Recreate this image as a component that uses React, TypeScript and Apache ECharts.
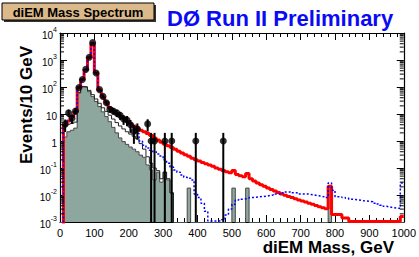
import React, { useEffect, useRef } from 'react';
import * as echarts from 'echarts';

const FONT = '"Liberation Sans", Arial, Helvetica, sans-serif';
const BIN_WIDTH = 10; // GeV
const X_MIN = 0;
const X_MAX = 1000;
const X_TICK = 100;
const Y_MIN = 1e-3;
const Y_MAX = 1e4;
const Y_MINOR_MULT = [2, 3, 4, 5, 6, 7, 8, 9];
const Y_DECADES = [-3, -2, -1, 0, 1, 2, 3];

// total expected background (red), events per 10 GeV bin from 0 GeV
const RED = [
  0, 3.8, 5.5, 8, 12, 95, 190, 430, 1250, 4200,
  330, 75, 42, 27, 17, 13, 10.5, 8.5, 6.8, 5.5,
  4.4, 3.6, 3.0, 2.5, 2.2, 1.9, 1.6, 1.3, 1.1, 0.9,
  0.75, 0.66, 0.57, 0.49, 0.42, 0.36, 0.31, 0.27, 0.23, 0.2,
  0.18, 0.16, 0.145, 0.13, 0.115, 0.1, 0.09, 0.08, 0.072, 0.066,
  0.08, 0.058, 0.052, 0.047, 0.062, 0.04, 0.033, 0.028, 0.024, 0.021,
  0.018, 0.016, 0.014, 0.0125, 0.011, 0.0098, 0.0088, 0.008, 0.0072, 0.0065,
  0.006, 0.0055, 0.005, 0.0045, 0.0041, 0.0037, 0.0034, 0.0031, 0.021, 0.0019,
  0.0019, 0.0019, 0.0014, 0.0014, 0.00105, 0.00105, 0.00105, 0.00105, 0.00105, 0.00105,
  0.00105, 0.00105, 0.00105, 0.00105, 0.00105, 0.00105, 0.00105, 0.00105, 0.00105, 0.0016,
];

// blue dotted histogram
const BLUE = [
  0, 3.8, 5.5, 8, 12, 95, 190, 430, 1250, 4200,
  330, 75, 42, 27, 17, 13, 10.5, 8.5, 6.8, 5.5,
  4.2, 3.2, 1.9, 1.0, 0.7, 0.55, 0.45, 0.4, 0.33, 0.28,
  0.2, 0.15, 0.11, 0.085, 0.07, 0.055, 0.045, 0.042, 0.036, 0.011,
  0.008, 0.005, 0.0025, 0.0011, 0.0011, 0.0011, 0.0011, 0.0012, 0.0018, 0.003,
  0.0045, 0.0065, 0.007, 0.0072, 0.0075, 0.008, 0.0082, 0.0085, 0.0088, 0.009,
  0.0095, 0.01, 0.011, 0.011, 0.012, 0.013, 0.013, 0.012, 0.012, 0.011,
  0.011, 0.011, 0.0105, 0.01, 0.0095, 0.009, 0.0085, 0.008, 0.028, 0.015,
  0.0087, 0.0085, 0.008, 0.0075, 0.007, 0.0068, 0.0065, 0.0062, 0.006, 0.0058,
  0.0056, 0.005, 0.0046, 0.0042, 0.0038, 0.0036, 0.0034, 0.0033, 0.0032, 0.028,
];

// filled grey histogram
const GREY = [
  0, 1.4, 2.2, 2.5, 3, 60, 100, 95, 67, 44,
  29, 19, 12, 8, 5.2, 3.2, 2.0, 1.3, 0.95, 0.75,
  0.6, 0.5, 0.4, 0.3, 0.25, 0.13, 0.085, 0.036, 0.07, 0.03,
  0.07, 0.036, 0.012, 0, 0, 0, 0, 0.018, 0, 0,
  0, 0, 0, 0, 0, 0, 0, 0, 0, 0,
  0.018, 0, 0, 0, 0.018, 0, 0, 0, 0, 0,
  0, 0, 0, 0, 0, 0, 0, 0, 0, 0,
  0, 0, 0, 0, 0, 0, 0, 0, 0.02, 0,
  0, 0, 0, 0, 0, 0, 0, 0, 0, 0,
  0, 0, 0, 0, 0, 0, 0, 0, 0, 0,
];

// thin black outline histogram (low mass part)
const OUTLINE = [
  0, 3.9, 4.2, 4.5, 5, 62, 105, 102, 75, 52,
  36, 25, 17, 12.5, 9, 6.5, 4.8, 3.6, 2.8, 2.2,
  1.8, 1.5, 1.2, 0.8, 0.5, 0.26, 0.15, 0.1, 0.08, 0.04,
  0.07, 0.04, 0.012, 0,
];

// data points (bin centre in GeV, events)
const DATA_MASS = [15, 25, 35, 45, 55, 65, 75, 85, 95, 105, 115, 125, 135, 145, 155, 165, 175, 185, 195, 205, 215, 225, 255, 265, 275, 305, 325, 395, 475];
const DATA_EVENTS = [4.2, 11, 7, 13, 95, 190, 450, 1260, 4400, 330, 80, 45, 26, 15, 13, 11, 9, 6.5, 6, 4, 2.3, 2.8, 4.3, 1, 1, 1, 1, 1, 1];

const FLOOR = 1e-6;

function stepPoints(vals: number[]) {
  const pts = vals.map((v, i) => [i * BIN_WIDTH, v > 0 ? v : FLOOR]);
  const last = vals[vals.length - 1];
  pts.push([vals.length * BIN_WIDTH, last > 0 ? last : FLOOR]);
  return pts;
}

function supLabel(v: number) {
  const e = Math.round(Math.log10(v));
  if (e === 0) return '{b|1}';
  if (e === 1) return '{b|10}';
  return '{b|10}{s|' + (e < 0 ? '-' + -e : String(e)) + '}';
}

export default function App() {
  const ref = useRef<HTMLDivElement>(null);

  useEffect(() => {
    if (!ref.current) return;
    const chart = echarts.init(ref.current, undefined, { renderer: 'svg' });

    const minorTicks: number[][] = [];
    Y_DECADES.forEach((d) => Y_MINOR_MULT.forEach((m) => minorTicks.push([0, m * Math.pow(10, d)])));

    const errData = DATA_MASS.map((m, i) => {
      const v = DATA_EVENTS[i];
      const s = Math.sqrt(v);
      return [m, v, Math.max(v - s, Y_MIN), v + s];
    });

    const axisLineStyle = { color: '#000', width: 1.2 };

    const option: any = {
      animation: false,
      backgroundColor: '#fff',
      grid: { left: 60, top: 33, width: 346, height: 189, containLabel: false },
      xAxis: [
        {
          type: 'value', min: X_MIN, max: X_MAX, interval: X_TICK, position: 'bottom',
          axisLine: { show: true, onZero: false, lineStyle: axisLineStyle },
          axisTick: { show: true, inside: true, length: 7, lineStyle: { color: '#000', width: 1 } },
          minorTick: { show: true, splitNumber: 5, length: 4, lineStyle: { color: '#000', width: 1 } },
          axisLabel: { color: '#000', fontSize: 11, fontFamily: FONT, margin: 5, formatter: (v: number) => String(v) },
          splitLine: { show: false },
        },
        {
          type: 'value', min: X_MIN, max: X_MAX, interval: X_TICK, position: 'top',
          axisLine: { show: true, onZero: false, lineStyle: axisLineStyle },
          axisTick: { show: true, inside: true, length: 7, lineStyle: { color: '#000', width: 1 } },
          minorTick: { show: true, splitNumber: 5, length: 4, lineStyle: { color: '#000', width: 1 } },
          axisLabel: { show: false },
          splitLine: { show: false },
        },
      ],
      yAxis: [
        {
          type: 'log', logBase: 10, min: Y_MIN, max: Y_MAX, position: 'left',
          axisLine: { show: true, onZero: false, lineStyle: axisLineStyle },
          axisTick: { show: true, inside: true, length: 7, lineStyle: { color: '#000', width: 1 } },
          axisLabel: {
            formatter: supLabel, margin: 3,
            rich: {
              b: { fontSize: 10, fontFamily: FONT, color: '#000', lineHeight: 14, verticalAlign: 'bottom' },
              s: { fontSize: 7, fontFamily: FONT, color: '#000', lineHeight: 8, verticalAlign: 'top' },
            },
          },
          splitLine: { show: false },
        },
        {
          type: 'log', logBase: 10, min: Y_MIN, max: Y_MAX, position: 'right',
          axisLine: { show: true, onZero: false, lineStyle: axisLineStyle },
          axisTick: { show: true, inside: true, length: 7, lineStyle: { color: '#000', width: 1 } },
          axisLabel: { show: false },
          splitLine: { show: false },
        },
      ],
      graphic: [
        { type: 'rect', shape: { x: 4, y: 5, width: 152, height: 17 }, style: { fill: '#333' }, silent: true },
        { type: 'rect', shape: { x: 2, y: 3, width: 152, height: 17 }, style: { fill: '#dbb98a', stroke: '#000', lineWidth: 1 }, silent: true },
        {
          type: 'text', x: 78, y: 12,
          style: { text: 'diEM Mass Spectrum', fill: '#000', font: 'bold 13px ' + FONT, align: 'center', verticalAlign: 'middle' },
        },
        {
          type: 'text', x: 167, y: 18,
          style: { text: 'DØ Run II Preliminary', fill: '#0a0af5', font: 'bold 22px ' + FONT, align: 'left', verticalAlign: 'middle' },
        },
        {
          type: 'text', x: 26, y: 105, rotation: Math.PI / 2,
          style: { text: 'Events/10 GeV', fill: '#000', font: 'bold 17px ' + FONT, align: 'center', verticalAlign: 'middle' },
        },
        {
          type: 'text', x: 394, y: 247,
          style: { text: 'diEM Mass, GeV', fill: '#000', font: 'bold 17px ' + FONT, align: 'right', verticalAlign: 'middle' },
        },
      ],
      series: [
        {
          type: 'line', step: 'end', data: stepPoints(GREY), showSymbol: false, clip: true,
          lineStyle: { color: '#4a4a4a', width: 1 },
          areaStyle: { color: '#8da69e', opacity: 1, origin: 'start' },
          z: 1,
        },
        {
          type: 'line', step: 'end', data: stepPoints(OUTLINE), showSymbol: false, clip: true,
          lineStyle: { color: '#222', width: 1 }, z: 2,
        },
        {
          type: 'line', step: 'end', data: stepPoints(RED), showSymbol: false, clip: true,
          lineStyle: { color: '#ff0000', width: 3 }, z: 3,
        },
        {
          type: 'line', step: 'end', data: stepPoints(BLUE), showSymbol: false, clip: true,
          lineStyle: { color: '#0000ff', width: 1.5, type: [2, 2] }, z: 4,
        },
        {
          type: 'custom', data: errData, clip: true, z: 5, silent: true,
          renderItem: (_p: any, api: any) => {
            const top = api.coord([api.value(0), api.value(3)]);
            const bot = api.coord([api.value(0), api.value(2)]);
            return { type: 'line', shape: { x1: top[0], y1: top[1], x2: bot[0], y2: bot[1] }, style: { stroke: '#000', lineWidth: 2 } };
          },
        },
        {
          type: 'scatter', data: DATA_MASS.map((m, i) => [m, DATA_EVENTS[i]]), symbol: 'circle', symbolSize: 7,
          itemStyle: { color: '#000' }, z: 6, silent: true,
        },
        {
          type: 'custom', data: minorTicks, z: 7, silent: true,
          renderItem: (_p: any, api: any) => {
            const v = api.value(1);
            const l = api.coord([X_MIN, v]);
            const r = api.coord([X_MAX, v]);
            return {
              type: 'group',
              children: [
                { type: 'line', shape: { x1: l[0], y1: l[1], x2: l[0] + 4, y2: l[1] }, style: { stroke: '#000', lineWidth: 1 } },
                { type: 'line', shape: { x1: r[0] - 4, y1: r[1], x2: r[0], y2: r[1] }, style: { stroke: '#000', lineWidth: 1 } },
              ],
            };
          },
        },
      ],
    };

    chart.setOption(option);
    return () => chart.dispose();
  }, []);

  return <div ref={ref} style={{ position: 'fixed', left: 0, top: 0, width: 419, height: 257, background: '#fff' }} />;
}
